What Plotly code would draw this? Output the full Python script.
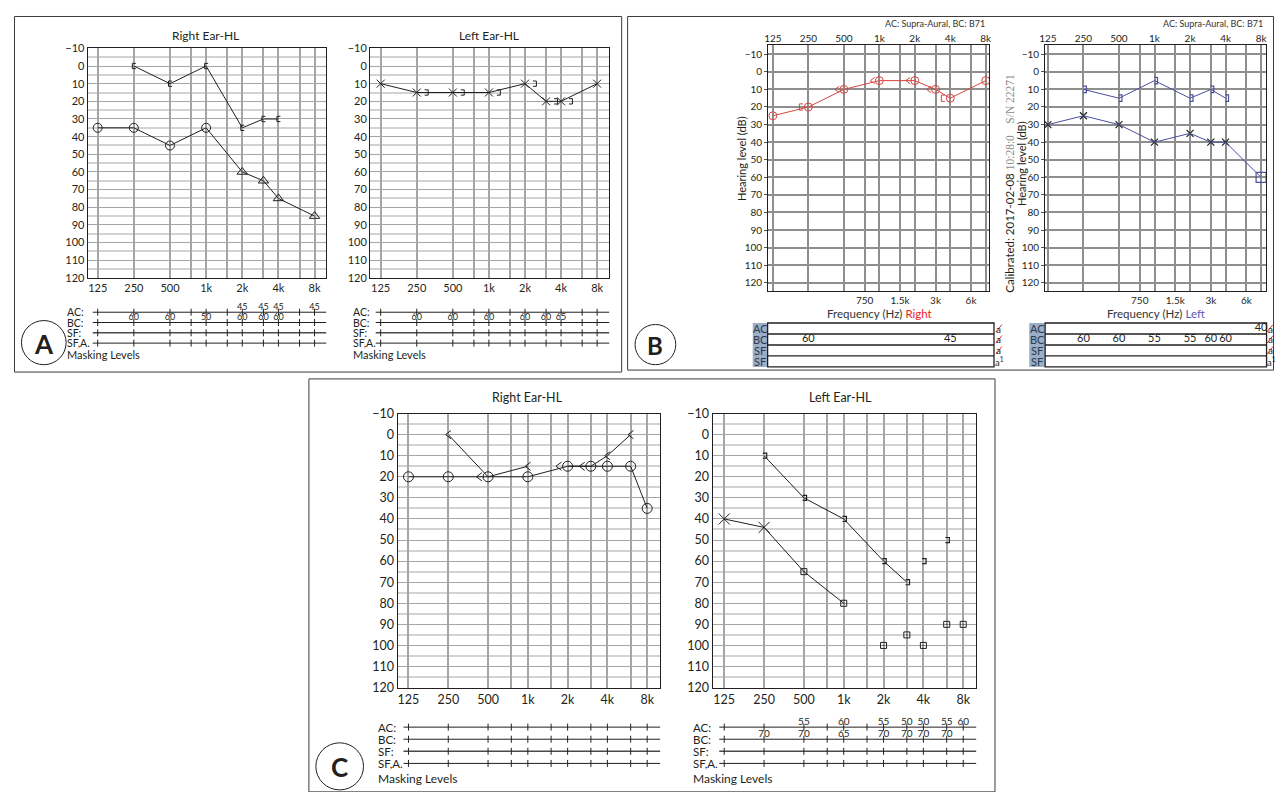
import math
import plotly.graph_objects as go

# ---------------- data ----------------
FREQ_GRID = [125, 250, 500, 750, 1000, 1500, 2000, 3000, 4000, 6000, 8000]
OCTAVE_FREQ = [125, 250, 500, 1000, 2000, 4000, 8000]
OCTAVE_LABELS = ["125", "250", "500", "1k", "2k", "4k", "8k"]
HALF_OCT_FREQ = [750, 1500, 3000, 6000]
HALF_OCT_LABELS = ["750", "1.5k", "3k", "6k"]
DB_TICKS = list(range(-10, 121, 10))
DB_MINOR = list(range(-5, 120, 10))
MASK_ROW_LABELS = ["AC:", "BC:", "SF:", "SF,A."]
TABLE_ROW_LABELS = ["AC", "BC", "SF", "SF"]

# Panel A - right ear
A_R_AC_FREQ = [125, 250, 500, 1000, 2000, 3000, 4000, 8000]
A_R_AC_DB = [35, 35, 45, 35, 60, 65, 75, 85]
A_R_AC_MASKED = [False, False, False, False, True, True, True, True]
A_R_BC_FREQ = [250, 500, 1000, 2000, 3000, 4000]
A_R_BC_DB = [0, 10, 0, 35, 30, 30]
A_R_MASK_AC_FREQ = [2000, 3000, 4000, 8000]
A_R_MASK_AC = [45, 45, 45, 45]
A_R_MASK_BC_FREQ = [250, 500, 1000, 2000, 3000, 4000]
A_R_MASK_BC = [60, 60, 50, 60, 60, 60]
# Panel A - left ear
A_L_AC_FREQ = [125, 250, 500, 1000, 2000, 3000, 4000, 8000]
A_L_AC_DB = [10, 15, 15, 15, 10, 20, 20, 10]
A_L_BC_FREQ = [250, 500, 1000, 2000, 3000, 4000]
A_L_BC_DB = [15, 15, 15, 10, 20, 20]
A_L_MASK_AC_FREQ = []
A_L_MASK_AC = []
A_L_MASK_BC_FREQ = [250, 500, 1000, 2000, 3000, 4000]
A_L_MASK_BC = [60, 60, 60, 60, 60, 65]

# Panel B - right ear
B_R_AC_FREQ = [125, 250, 500, 1000, 2000, 3000, 4000, 8000]
B_R_AC_DB = [25, 20, 10, 5, 5, 10, 15, 5]
B_R_BC_FREQ = [250, 500, 1000, 2000, 3000, 4000]
B_R_BC_DB = [20, 10, 5, 5, 10, 15]
B_R_BC_MASKED = [True, False, False, False, False, True]
B_R_MASK_AC_FREQ = []
B_R_MASK_AC = []
B_R_MASK_BC_FREQ = [250, 4000]
B_R_MASK_BC = [60, 45]
# Panel B - left ear
B_L_AC_FREQ = [125, 250, 500, 1000, 2000, 3000, 4000, 8000]
B_L_AC_DB = [30, 25, 30, 40, 35, 40, 40, 60]
B_L_AC_MASKED = [False, False, False, False, False, False, False, True]
B_L_BC_FREQ = [250, 500, 1000, 2000, 3000, 4000]
B_L_BC_DB = [10, 15, 5, 15, 10, 15]
B_L_MASK_AC_FREQ = [8000]
B_L_MASK_AC = [40]
B_L_MASK_BC_FREQ = [250, 500, 1000, 2000, 3000, 4000]
B_L_MASK_BC = [60, 60, 55, 55, 60, 60]

# Panel C - right ear
C_R_AC_FREQ = [125, 250, 500, 1000, 2000, 3000, 4000, 6000, 8000]
C_R_AC_DB = [20, 20, 20, 20, 15, 15, 15, 15, 35]
C_R_BC_FREQ = [250, 500, 1000, 2000, 3000, 4000, 6000]
C_R_BC_DB = [0, 20, 15, 15, 15, 10, 0]
C_R_BC_SEGMENT = [1, 1, 1, 2, 2, 2, 2]
# Panel C - left ear
C_L_AC_FREQ = [125, 250, 500, 1000, 2000, 3000, 4000, 6000, 8000]
C_L_AC_DB = [40, 44, 65, 80, 100, 95, 100, 90, 90]
C_L_AC_MASKED = [False, False, True, True, True, True, True, True, True]
C_L_AC_SEGMENT = [1, 1, 1, 1, 0, 0, 0, 0, 0]
C_L_BC_FREQ = [250, 500, 1000, 2000, 3000, 4000, 6000]
C_L_BC_DB = [10, 30, 40, 60, 70, 60, 50]
C_L_BC_SEGMENT = [1, 1, 1, 1, 1, 0, 0]
C_L_MASK_AC_FREQ = [500, 1000, 2000, 3000, 4000, 6000, 8000]
C_L_MASK_AC = [55, 60, 55, 50, 50, 55, 60]
C_L_MASK_BC_FREQ = [250, 500, 1000, 2000, 3000, 4000, 6000]
C_L_MASK_BC = [70, 70, 65, 70, 70, 70, 70]

# ---------------- style / layout ----------------
# The page keeps the browser's 8 px body margin, so the figure is sized to fill
# the rest of the 1285x800 window; positions below are given in window pixels.
OX, OY = 8, 8
FW, FH = 1285 - 2 * OX, 800 - 2 * OY
FONT = "Lato, 'Open Sans', sans-serif"
INK = "#231f20"
RED = "#d6453e"
BLUE = "#4b4f9e"
GRID = "#a5a5a5"
GRID_MINOR = "#d2d2d2"
B_GRID = "#8e8e8e"

fig = go.Figure()
_n = [0]


def px(x):
    return (x - OX) / FW


def py(y):
    return 1 - (y - OY) / FH


def xrange_log(left, right, p125, p8k):
    per = (p8k - p125) / 6.0
    l2 = math.log10(2)
    return [math.log10(125) + l2 * (left - p125) / per,
            math.log10(8000) + l2 * (right - p8k) / per]


def yrange_db(top, bottom, m10, p120):
    per = (p120 - m10) / 130.0
    return [120 + (bottom - p120) / per, -10 - (m10 - top) / per]


def shift_f(f, dpx, per):
    return f * 2 ** (dpx / per)


def new_axes(xdom, ydom, xr, yr, xo, yo):
    _n[0] += 1
    s = "" if _n[0] == 1 else str(_n[0])
    xa = dict(domain=[px(xdom[0]), px(xdom[1])], range=xr, anchor="y" + s, fixedrange=True)
    ya = dict(domain=[py(ydom[1]), py(ydom[0])], range=yr, anchor="x" + s, fixedrange=True)
    xa.update(xo)
    ya.update(yo)
    fig.update_layout({"xaxis" + s: xa, "yaxis" + s: ya})
    return "x" + s, "y" + s


def segments(xs, ys, seg):
    ox, oy, prev = [], [], None
    for x, y, s in zip(xs, ys, seg):
        if s == 0:
            continue
        if prev is not None and s != prev:
            ox.append(None)
            oy.append(None)
        ox.append(x)
        oy.append(y)
        prev = s
    return ox, oy


def line(ax, xs, ys, color=INK, width=1):
    fig.add_trace(go.Scatter(x=xs, y=ys, mode="lines", line=dict(color=color, width=width),
                             xaxis=ax[0], yaxis=ax[1], hoverinfo="skip", showlegend=False,
                             cliponaxis=False, connectgaps=False))


def markers(ax, xs, ys, symbol, size, color=INK, lw=1):
    fig.add_trace(go.Scatter(x=xs, y=ys, mode="markers",
                             marker=dict(symbol=symbol, size=size, color=color,
                                         line=dict(color=color, width=lw)),
                             xaxis=ax[0], yaxis=ax[1], hoverinfo="skip", showlegend=False,
                             cliponaxis=False))


def texts(ax, xs, ys, labels, size, color=INK, pos="middle center"):
    fig.add_trace(go.Scatter(x=xs, y=ys, mode="text", text=labels, textposition=pos,
                             textfont=dict(family=FONT, size=size, color=color),
                             xaxis=ax[0], yaxis=ax[1], hoverinfo="skip", showlegend=False,
                             cliponaxis=False))


def chevrons(ax, fs, ds, tip_dx, w, h, per, per_db, color=INK, lw=1):
    """'<' symbols: tip offset tip_dx px from the frequency, arms w px long, +-h px tall."""
    xs, ys = [], []
    for f, d, dx in zip(fs, ds, tip_dx):
        tip, arm = shift_f(f, dx, per), shift_f(f, dx + w, per)
        hd = h / per_db
        xs += [arm, tip, arm, None]
        ys += [d - hd, d, d + hd, None]
    line(ax, xs, ys, color, lw)


def brackets(ax, fs, ds, spine_dx, w, h, per, per_db, color=INK, lw=1):
    """'[' (w>0) or ']' (w<0) symbols drawn around each point."""
    xs, ys = [], []
    for f, d, dx in zip(fs, ds, spine_dx):
        sp, arm = shift_f(f, dx, per), shift_f(f, dx + w, per)
        hd = h / per_db
        xs += [arm, sp, sp, arm, None]
        ys += [d - hd, d - hd, d + hd, d + hd, None]
    line(ax, xs, ys, color, lw)


def note(text, x, y, size=12, color=INK, xa="center", ya="middle", angle=0, bold=False):
    fig.add_annotation(text=("<b>%s</b>" % text) if bold else text, x=px(x), y=py(y),
                       xref="paper", yref="paper", showarrow=False, xanchor=xa, yanchor=ya,
                       textangle=angle, font=dict(family=FONT, size=size, color=color))


def rect(x0, y0, x1, y1, color="#3c3c3c", width=1, fill=None):
    fig.add_shape(type="rect", xref="paper", yref="paper", x0=px(x0), x1=px(x1),
                  y0=py(y1), y1=py(y0), line=dict(color=color, width=width),
                  fillcolor=fill, layer="below" if fill else "above")


def seg(x0, y0, x1, y1, color=INK, width=1):
    fig.add_shape(type="line", xref="paper", yref="paper", x0=px(x0), x1=px(x1),
                  y0=py(y0), y1=py(y1), line=dict(color=color, width=width))


def circle(cx, cy, r):
    fig.add_shape(type="circle", xref="paper", yref="paper", x0=px(cx - r), x1=px(cx + r),
                  y0=py(cy + r), y1=py(cy - r), line=dict(color=INK, width=1))


def grid_labels(freqs, labels, allf):
    return [labels[freqs.index(f)] if f in freqs else "" for f in allf]


def audiogram_axes(xdom, ydom, p125, p8k, fsize):
    xo = dict(type="log", tickmode="array", tickvals=FREQ_GRID,
              ticktext=grid_labels(OCTAVE_FREQ, OCTAVE_LABELS, FREQ_GRID),
              showgrid=True, gridcolor=GRID, gridwidth=1.5, showline=True, mirror=True,
              linecolor=INK, linewidth=1.3, ticks="", zeroline=False,
              tickfont=dict(family=FONT, size=fsize, color=INK))
    yo = dict(tickmode="array", tickvals=DB_TICKS, showgrid=True, gridcolor=GRID, gridwidth=1,
              minor=dict(tickvals=DB_MINOR, showgrid=True, gridcolor=GRID_MINOR, gridwidth=2),
              showline=True, mirror=True, linecolor=INK, linewidth=1.3, ticks="", zeroline=False,
              tickfont=dict(family=FONT, size=fsize, color=INK))
    return new_axes(xdom, ydom, xrange_log(xdom[0], xdom[1], p125, p8k),
                    yrange_db(ydom[0], ydom[1], ydom[0], ydom[1]), xo, yo)


def masking_block(xdom, p125, p8k, rows, label_x, ml_y, lab_size, num_size,
                  ac_f, ac_v, bc_f, bc_v):
    sp = rows[1] - rows[0]
    per = (p8k - p125) / 6.0
    xr = xrange_log(xdom[0], xdom[1], p125, p8k)
    ax = new_axes(xdom, (rows[0] - sp / 2, rows[3] + sp / 2), xr, [3.5, -0.5],
                  dict(type="log", visible=False), dict(visible=False))
    x0 = shift_f(125, -5, per)
    x1 = 10 ** xr[1]
    for i, lab in enumerate(MASK_ROW_LABELS):
        line(ax, [x0, x1], [i, i], INK if i != 2 else "#4a4a4a", 1 if i != 2 else 1.6)
        markers(ax, FREQ_GRID, [i] * len(FREQ_GRID), "line-ns", 5, INK, 1)
        note(lab, label_x, rows[i], lab_size, INK, xa="left")
    if ac_f:
        texts(ax, ac_f, [0] * len(ac_f), [str(v) for v in ac_v], num_size, INK, "top center")
    if bc_f:
        texts(ax, bc_f, [1] * len(bc_f), [str(v) for v in bc_v], num_size, INK, "top center")
    note("Masking Levels", label_x, ml_y, lab_size + 0.5, INK, xa="left")


def table_block(lab_x0, box_x0, box_x1, top, rh, p125, p8k, ac_f, ac_v, bc_f, bc_v, sym_x):
    bottom = top + 4 * rh
    rect(lab_x0, top, box_x0, bottom, color="rgba(0,0,0,0)", width=0, fill="#9aaec5")
    rect(box_x0, top, box_x1, bottom, color=INK, width=1.3)
    for k in range(1, 4):
        seg(box_x0, top + k * rh, box_x1, top + k * rh, INK, 1.3)
    for i, lab in enumerate(TABLE_ROW_LABELS):
        cy = top + (i + 0.5) * rh
        note(lab, (lab_x0 + box_x0) / 2, cy, 11, "#2a3a52")
        if i < 3:
            note("a", sym_x, cy, 10, INK)
            seg(sym_x - 3, cy + 3.5, sym_x + 3, cy - 4, "#e0302a", 1)
        else:
            note("a<sup>1</sup>", sym_x + 1, cy, 9.5, INK)
    ax = new_axes((box_x0, box_x1), (top, bottom), xrange_log(box_x0, box_x1, p125, p8k),
                  [3.5, -0.5], dict(type="log", visible=False), dict(visible=False))
    if ac_f:
        texts(ax, ac_f, [0] * len(ac_f), [str(v) for v in ac_v], 11, INK)
    if bc_f:
        texts(ax, bc_f, [1] * len(bc_f), [str(v) for v in bc_v], 11, INK)


def b_axes(xdom, ydom, p125, p8k, m10, p120):
    xr = xrange_log(xdom[0], xdom[1], p125, p8k)
    yr = yrange_db(ydom[0], ydom[1], m10, p120)
    tf = dict(family=FONT, size=10, color=INK)
    xo = dict(type="log", tickmode="array", tickvals=FREQ_GRID,
              ticktext=grid_labels(HALF_OCT_FREQ, HALF_OCT_LABELS, FREQ_GRID),
              showgrid=True, gridcolor=B_GRID, gridwidth=1.5, showline=True, mirror=True,
              linecolor=INK, linewidth=1.3, ticks="", zeroline=False, tickfont=tf)
    yo = dict(tickmode="array", tickvals=DB_TICKS, showgrid=True, gridcolor=B_GRID, gridwidth=1.5,
              showline=True, mirror=True, linecolor=INK, linewidth=1.3, ticks="outside",
              ticklen=3, tickcolor="#555", zeroline=False, tickfont=tf)
    ax = new_axes(xdom, ydom, xr, yr, xo, yo)
    _n[0] += 1
    s = str(_n[0])
    fig.update_layout({"xaxis" + s: dict(type="log", range=xr, overlaying=ax[0], anchor=ax[1],
                                         side="top", tickmode="array", tickvals=OCTAVE_FREQ,
                                         ticktext=OCTAVE_LABELS, showgrid=False, zeroline=False,
                                         ticks="", showline=False, fixedrange=True, tickfont=tf)})
    return ax, ("x" + s, ax[1])


# ---------------- frames & panel letters ----------------
rect(8.5, 8.5, 620, 371)
rect(626, 8.5, 1276.5, 369)
rect(305, 378, 996, 799)
circle(38, 341, 22.5)
note("A", 38, 342, 26, INK, bold=True)
circle(654, 343, 20.5)
note("B", 654, 344, 24, INK, bold=True)
circle(336, 773, 24)
note("C", 336, 774, 26, INK, bold=True)

# ---------------- Panel A ----------------
A_Y = (41, 275)
A_PER_DB = (A_Y[1] - A_Y[0]) / 130.0
A_R_X, A_R_125, A_R_8K = (82.3, 322.7), 92.3, 310.7
A_L_X, A_L_125, A_L_8K = (366.7, 607.7), 377.3, 595.3
A_R_PER = (A_R_8K - A_R_125) / 6.0
A_L_PER = (A_L_8K - A_L_125) / 6.0

ax = audiogram_axes(A_R_X, A_Y, A_R_125, A_R_8K, 11)
line(ax, A_R_AC_FREQ, A_R_AC_DB)
markers(ax, [f for f, m in zip(A_R_AC_FREQ, A_R_AC_MASKED) if not m],
        [d for d, m in zip(A_R_AC_DB, A_R_AC_MASKED) if not m], "circle-open", 9)
markers(ax, [f for f, m in zip(A_R_AC_FREQ, A_R_AC_MASKED) if m],
        [d for d, m in zip(A_R_AC_DB, A_R_AC_MASKED) if m], "triangle-up-open", 9)
line(ax, A_R_BC_FREQ, A_R_BC_DB)
brackets(ax, A_R_BC_FREQ, A_R_BC_DB, [-1.5] * len(A_R_BC_FREQ), 3.5, 2.7, A_R_PER, A_PER_DB)

ax = audiogram_axes(A_L_X, A_Y, A_L_125, A_L_8K, 11)
line(ax, A_L_AC_FREQ, A_L_AC_DB)
markers(ax, A_L_AC_FREQ, A_L_AC_DB, "x-thin-open", 8)
brackets(ax, A_L_BC_FREQ, A_L_BC_DB, [11.5] * len(A_L_BC_FREQ), -3.5, 2.7, A_L_PER, A_PER_DB)

note("Right Ear-HL", 201, 28, 12)
note("Left Ear-HL", 486, 28, 12)

A_ROWS = [310, 320.5, 331, 341.5]
masking_block(A_R_X, A_R_125, A_R_8K, A_ROWS, 59, 353, 10.5, 9,
              A_R_MASK_AC_FREQ, A_R_MASK_AC, A_R_MASK_BC_FREQ, A_R_MASK_BC)
masking_block(A_L_X, A_L_125, A_L_8K, A_ROWS, 347, 353, 10.5, 9,
              A_L_MASK_AC_FREQ, A_L_MASK_AC, A_L_MASK_BC_FREQ, A_L_MASK_BC)

# ---------------- Panel B ----------------
B_Y = (37.3, 288.3)
B_M10, B_120 = 47, 280
B_PER_DB = (B_120 - B_M10) / 130.0
B_R_X, B_R_125, B_R_8K = (767.7, 990), 772.3, 986.7
B_L_X, B_L_125, B_L_8K = (1046.7, 1269.3), 1049.3, 1264
B_R_PER = (B_R_8K - B_R_125) / 6.0
B_L_PER = (B_L_8K - B_L_125) / 6.0

ax, axt = b_axes(B_R_X, B_Y, B_R_125, B_R_8K, B_M10, B_120)
line(axt, B_R_AC_FREQ, B_R_AC_DB, RED, 1)
markers(ax, B_R_AC_FREQ, B_R_AC_DB, "circle-open", 8, RED, 1)
ac_lookup = dict(zip(B_R_AC_FREQ, B_R_AC_DB))
b_dx = [-9 if ac_lookup.get(f) == d else -2 for f, d in zip(B_R_BC_FREQ, B_R_BC_DB)]
um = [i for i, m in enumerate(B_R_BC_MASKED) if not m]
mk = [i for i, m in enumerate(B_R_BC_MASKED) if m]
chevrons(ax, [B_R_BC_FREQ[i] for i in um], [B_R_BC_DB[i] for i in um], [b_dx[i] for i in um],
         4.3, 3.2, B_R_PER, B_PER_DB, RED, 1)
brackets(ax, [B_R_BC_FREQ[i] for i in mk], [B_R_BC_DB[i] for i in mk], [b_dx[i] for i in mk],
         3.5, 3.2, B_R_PER, B_PER_DB, RED, 1)

ax, axt = b_axes(B_L_X, B_Y, B_L_125, B_L_8K, B_M10, B_120)
line(axt, B_L_AC_FREQ, B_L_AC_DB, BLUE, 1)
markers(ax, [f for f, m in zip(B_L_AC_FREQ, B_L_AC_MASKED) if not m],
        [d for d, m in zip(B_L_AC_DB, B_L_AC_MASKED) if not m], "x-thin-open", 7, "#222", 1.2)
markers(ax, [f for f, m in zip(B_L_AC_FREQ, B_L_AC_MASKED) if m],
        [d for d, m in zip(B_L_AC_DB, B_L_AC_MASKED) if m], "square-open", 10, BLUE, 1.2)
line(ax, B_L_BC_FREQ, B_L_BC_DB, BLUE, 1)
brackets(ax, B_L_BC_FREQ, B_L_BC_DB, [3] * len(B_L_BC_FREQ), -3.2, 3.3, B_L_PER, B_PER_DB, BLUE, 1.2)

note("AC: Supra-Aural, BC: B71", 988, 16, 9, "#333", xa="right")
note("AC: Supra-Aural, BC: B71", 1268, 16, 9, "#333", xa="right")
note("Hearing level (dB)", 740, 153, 11, INK, angle=-90)
note("Hearing level (dB)", 1022, 158, 11, INK, angle=-90)
note("Calibrated: 2017-02-08 <span style=\"font-family:'Liberation Serif',serif;color:#8a8a8a\">"
     "10:28:0\u00a0\u00a0\u00a0 S/N\u00a022271</span>", 1011, 178, 11.5, INK, angle=-90)
note("Frequency (Hz) <span style='color:#ed1c24'>Right</span>", 880, 311, 11.5, "#333")
note("Frequency (Hz) <span style='color:#5a5ab4'>Left</span>", 1158, 311, 11.5, "#333")

table_block(752, 767, 995, 321, 11.2, B_R_125, B_R_8K,
            B_R_MASK_AC_FREQ, B_R_MASK_AC, B_R_MASK_BC_FREQ, B_R_MASK_BC, 1000)
table_block(1030.5, 1046.5, 1269.5, 321, 11.2, B_L_125, B_L_8K,
            B_L_MASK_AC_FREQ, B_L_MASK_AC, B_L_MASK_BC_FREQ, B_L_MASK_BC, 1273)

# ---------------- Panel C ----------------
C_Y = (413.3, 692.7)
C_PER_DB = (C_Y[1] - C_Y[0]) / 130.0
C_R_X, C_R_125, C_R_8K = (394.3, 659), 405.3, 645.7
C_L_X, C_L_125, C_L_8K = (711.7, 977.3), 723.3, 964
C_R_PER = (C_R_8K - C_R_125) / 6.0
C_L_PER = (C_L_8K - C_L_125) / 6.0

ax = audiogram_axes(C_R_X, C_Y, C_R_125, C_R_8K, 12.5)
line(ax, C_R_AC_FREQ, C_R_AC_DB)
markers(ax, C_R_AC_FREQ, C_R_AC_DB, "circle-open", 10)
sx, sy = segments(C_R_BC_FREQ, C_R_BC_DB, C_R_BC_SEGMENT)
line(ax, sx, sy)
ac_lookup = dict(zip(C_R_AC_FREQ, C_R_AC_DB))
c_dx = [-11.7 if ac_lookup.get(f) == d else -2.7 for f, d in zip(C_R_BC_FREQ, C_R_BC_DB)]
chevrons(ax, C_R_BC_FREQ, C_R_BC_DB, c_dx, 5.5, 4.2, C_R_PER, C_PER_DB, INK, 1)

ax = audiogram_axes(C_L_X, C_Y, C_L_125, C_L_8K, 12.5)
sx, sy = segments(C_L_AC_FREQ, C_L_AC_DB, C_L_AC_SEGMENT)
line(ax, sx, sy)
markers(ax, [f for f, m in zip(C_L_AC_FREQ, C_L_AC_MASKED) if not m],
        [d for d, m in zip(C_L_AC_DB, C_L_AC_MASKED) if not m], "x-thin-open", 11)
markers(ax, [f for f, m in zip(C_L_AC_FREQ, C_L_AC_MASKED) if m],
        [d for d, m in zip(C_L_AC_DB, C_L_AC_MASKED) if m], "square-open-dot", 6)
sx, sy = segments(C_L_BC_FREQ, C_L_BC_DB, C_L_BC_SEGMENT)
line(ax, sx, sy)
brackets(ax, C_L_BC_FREQ, C_L_BC_DB, [2.7] * len(C_L_BC_FREQ), -4, 2.6, C_L_PER, C_PER_DB, INK, 1.2)

note("Right Ear-HL", 525, 397, 12.5)
note("Left Ear-HL", 840, 397, 12.5)

C_ROWS = [733, 745.3, 757.6, 770]
masking_block(C_R_X, C_R_125, C_R_8K, C_ROWS, 373, 785, 11.5, 10, [], [], [], [])
masking_block(C_L_X, C_L_125, C_L_8K, C_ROWS, 690, 785, 11.5, 10,
              C_L_MASK_AC_FREQ, C_L_MASK_AC, C_L_MASK_BC_FREQ, C_L_MASK_BC)

fig.update_layout(width=FW, height=FH, margin=dict(l=0, r=0, t=0, b=0),
                  paper_bgcolor="white", plot_bgcolor="white", showlegend=False,
                  font=dict(family=FONT, color=INK))
fig.write_html("out.html", config={"displayModeBar": False, "responsive": False})
